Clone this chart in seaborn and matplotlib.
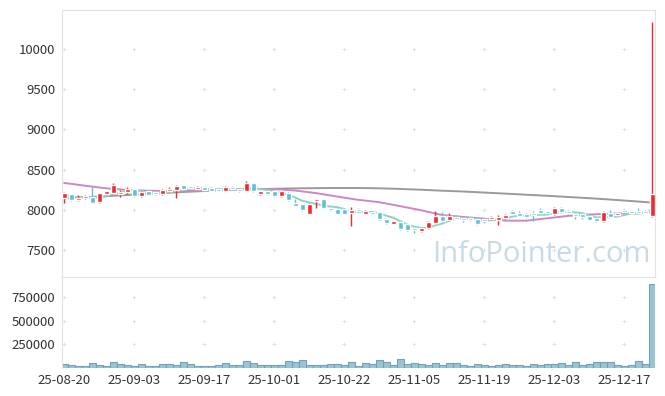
import numpy as np
import pandas as pd
import matplotlib
matplotlib.use("Agg")
import matplotlib.pyplot as plt
import seaborn as sns

# --- data (85 trading days) ---
tick_labels = ["25-08-20", "25-09-03", "25-09-17", "25-10-01", "25-10-22",
               "25-11-05", "25-11-19", "25-12-03", "25-12-17"]

opens = [8146, 8191, 8121, 8146, 8158, 8096, 8191, 8212, 8196, 8221,
         8254, 8171, 8229, 8212, 8196, 8229, 8246, 8304, 8290, 8262,
         8287, 8271, 8262, 8237, 8287, 8262, 8237, 8329, 8196, 8229,
         8229, 8171, 8212, 8067, 8067, 7954, 8104, 8129, 8017, 8012,
         8012, 7960, 8012, 7954, 7970, 7970, 7890, 7825, 7850, 7825,
         7765, 7737, 7770, 7840, 7920, 7870, 7908, 7896, 7894, 7890,
         7887, 7887, 7879, 7900, 7983, 7962, 7954, 7954, 8004, 7979,
         7946, 8017, 7987, 7954, 7954, 7921, 7896, 7858, 7962, 7937,
         8004, 7979, 7975, 7979, 7921]
closes = [8204, 8121, 8150, 8171, 8087, 8204, 8233, 8304, 8221, 8262,
          8171, 8221, 8187, 8192, 8246, 8254, 8296, 8262, 8270, 8287,
          8246, 8237, 8237, 8283, 8262, 8229, 8337, 8229, 8229, 8196,
          8171, 8229, 8121, 8054, 7992, 8067, 8129, 8021, 7996, 7954,
          7954, 7995, 7983, 7983, 7954, 7880, 7840, 7856, 7765, 7745,
          7745, 7770, 7850, 7920, 7862, 7925, 7887, 7879, 7875, 7825,
          7866, 7908, 7908, 7941, 7954, 7929, 7908, 7941, 7962, 7962,
          8029, 7971, 7962, 7921, 7912, 7879, 7858, 7979, 7912, 7954,
          7971, 7962, 7958, 7962, 8191]
highs = [8215, 8200, 8190, 8180, 8290, 8215, 8240, 8330, 8250, 8280,
         8260, 8230, 8240, 8225, 8255, 8290, 8305, 8310, 8300, 8300,
         8295, 8280, 8270, 8300, 8295, 8270, 8354, 8335, 8240, 8240,
         8235, 8240, 8220, 8129, 8075, 8080, 8135, 8135, 8025, 8020,
         8020, 8030, 8020, 7995, 7980, 7975, 7895, 7865, 7855, 7830,
         7775, 7780, 7860, 7990, 7975, 7960, 7930, 7910, 7905, 7895,
         7900, 7925, 7935, 7950, 8000, 7990, 7965, 7990, 8020, 7990,
         8040, 8030, 7995, 7960, 7965, 7930, 7905, 7985, 7995, 7960,
         8010, 7990, 8020, 7995, 10340]
lows = [8080, 8110, 8115, 8140, 8080, 8090, 8185, 8205, 8160, 8200,
        8165, 8165, 8180, 8185, 8190, 8220, 8146, 8255, 8260, 8255,
        8240, 8230, 8230, 8230, 8255, 8220, 8230, 8220, 8190, 8190,
        8165, 8165, 8110, 8045, 7985, 7950, 8020, 8010, 7990, 7945,
        7945, 7800, 7975, 7945, 7945, 7870, 7830, 7820, 7755, 7735,
        7715, 7725, 7760, 7835, 7855, 7860, 7880, 7850, 7860, 7815,
        7840, 7870, 7810, 7890, 7945, 7920, 7900, 7858, 7955, 7955,
        7940, 7965, 7950, 7880, 7890, 7870, 7850, 7855, 7905, 7930,
        7965, 7955, 7950, 7955, 7905]
volumes = [34000, 23000, 13000, 13000, 45000, 23000, 13000, 55000, 34000, 23000,
           13000, 34000, 13000, 13000, 34000, 34000, 23000, 55000, 34000, 13000,
           13000, 13000, 23000, 45000, 23000, 23000, 66000, 45000, 23000, 23000,
           23000, 23000, 66000, 55000, 77000, 23000, 23000, 23000, 34000, 34000,
           23000, 55000, 13000, 45000, 34000, 77000, 55000, 23000, 87000, 34000,
           45000, 34000, 23000, 45000, 23000, 45000, 45000, 23000, 13000, 34000,
           23000, 13000, 23000, 34000, 23000, 23000, 13000, 34000, 23000, 34000,
           34000, 45000, 23000, 55000, 23000, 34000, 55000, 55000, 55000, 23000,
           13000, 23000, 66000, 34000, 884000]

# longer moving averages, read every third day
ma_days = [0, 3, 6, 9, 12, 15, 18, 21, 24, 27, 30, 33, 36, 39, 42,
           45, 48, 51, 54, 57, 60, 63, 66, 69, 72, 75, 78, 81, 84]
ma20 = [8335, 8300, 8268, 8248, 8238, 8234, 8240, 8247, 8255, 8262,
        8258, 8240, 8208, 8165, 8125, 8095, 8046, 7995, 7935, 7912,
        7890, 7866, 7865, 7895, 7925, 7942, 7952, 7960, 7968]
ma60 = [8142, 8155, 8170, 8185, 8200, 8213, 8226, 8238, 8248, 8256,
        8262, 8267, 8270, 8272, 8272, 8268, 8260, 8250, 8238, 8228,
        8215, 8202, 8188, 8175, 8160, 8145, 8128, 8110, 8090]

df = pd.DataFrame({"open": opens, "high": highs, "low": lows,
                   "close": closes, "volume": volumes})
df["day"] = np.arange(len(df))
df["ma5"] = df["close"].rolling(5, min_periods=1).mean()
up = df["close"] >= df["open"]
ma_df = pd.DataFrame({"day": ma_days, "ma20": ma20, "ma60": ma60})

RED = "#ee2a2e"
BLUE = "#5fbfd8"
GRID = "#dedede"
TEXT = "#333333"

sns.set_theme(style="white")
plt.rcParams["font.family"] = ["Noto Sans CJK KR", "DejaVu Sans"]

fig = plt.figure(figsize=(6.65, 3.96), dpi=100)
ax = fig.add_axes([62 / 665, 1 - 277 / 396, 593 / 665, 267 / 396])
axv = fig.add_axes([62 / 665, 1 - 367.5 / 396, 593 / 665, 90.5 / 396], sharex=ax)

xticks = list(range(0, 81, 10))
price_ticks = [7500, 8000, 8500, 9000, 9500, 10000]
vol_ticks = [250000, 500000, 750000]

# grid crosses
gx, gy = np.meshgrid(xticks, price_ticks)
ax.plot(gx.ravel(), gy.ravel(), "+", color=GRID, ms=3.5, mew=0.6, zorder=0)
gx, gy = np.meshgrid(xticks, vol_ticks)
axv.plot(gx.ravel(), gy.ravel(), "+", color=GRID, ms=3.5, mew=0.6, zorder=0)

# moving averages
sns.lineplot(data=ma_df, x="day", y="ma60", ax=ax, color="#9a9a9a", lw=1.4, zorder=2)
sns.lineplot(data=ma_df, x="day", y="ma20", ax=ax, color="#cc88c4", lw=1.4, zorder=2)
sns.lineplot(data=df, x="day", y="ma5", ax=ax, color="#8dd3c4", lw=1.4, zorder=2)

# candles
colors = np.where(up, RED, BLUE)
ax.vlines(df["day"], df["low"], df["high"], colors=colors, lw=1, zorder=3)
body_lo = df[["open", "close"]].min(axis=1)
body_h = (df["close"] - df["open"]).abs().clip(lower=25)
ax.bar(df["day"], body_h, bottom=body_lo, width=0.72, color=colors, zorder=4)

# volume
sns.barplot(data=df, x="day", y="volume", ax=axv, native_scale=True, width=1.0,
            color="#9dc3d3", edgecolor="#6ea3b9", linewidth=0.8, saturation=1)

ax.text(0.808, 0.085, "InfoPointer.com", transform=ax.transAxes, ha="center",
        va="center", fontsize=21, color="#c8dae6", family="Open Sans", zorder=1)

ax.set_ylim(7165, 10485)
ax.set_yticks(price_ticks)
ax.set_yticklabels([str(t) for t in price_ticks])
axv.set_ylim(0, 963000)
axv.set_yticks(vol_ticks)
axv.set_yticklabels([str(t) for t in vol_ticks])
axv.set_xlim(-0.3, 84.4)
axv.set_xticks(xticks)
axv.set_xticklabels(tick_labels)
ax.tick_params(axis="x", labelbottom=False)

for a in (ax, axv):
    a.set_xlabel("")
    a.set_ylabel("")
    a.tick_params(length=0, labelsize=9.5, colors=TEXT, pad=5)
    for s in a.spines.values():
        s.set_color("#e2e2e2")
        s.set_linewidth(0.8)
axv.spines["bottom"].set_visible(False)
axv.spines["right"].set_visible(False)

fig.savefig("out.png", dpi=100)
